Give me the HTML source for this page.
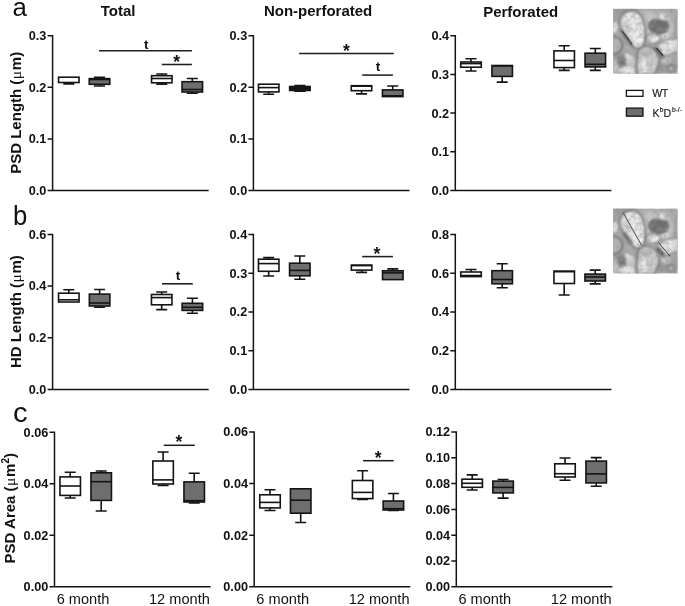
<!DOCTYPE html>
<html><head><meta charset="utf-8"><title>Figure</title>
<style>
html,body{margin:0;padding:0;background:#fff;}
svg{display:block;filter:grayscale(1);font-family:"Liberation Sans",sans-serif;}
.ax{fill:none;stroke:#141414;stroke-width:1.5;stroke-linecap:butt;stroke-linejoin:miter}
.bx{fill:none;stroke:#141414;stroke-width:1.6;}
.sg{fill:none;stroke:#1e1e1e;stroke-width:1.55;}
.tk{font-size:12.7px;font-weight:bold;text-anchor:end;fill:#111}
.xl{font-size:14.6px;text-anchor:middle;fill:#111}
.ti{font-size:15px;font-weight:bold;text-anchor:middle;fill:#111}
.pl{font-size:27px;fill:#111}
.yl{font-size:15px;font-weight:bold;text-anchor:middle;fill:#111}
.mu{font-family:"Liberation Serif",serif;font-weight:normal;font-size:15.5px}
.sup{font-size:10px}
.st{font-size:13.6px;font-weight:bold;text-anchor:middle;fill:#111}
.sa{font-size:17.5px;font-weight:bold;text-anchor:middle;fill:#111}
.lg{font-size:10.6px;fill:#1a1a1a;stroke:#1a1a1a;stroke-width:.15}
.ls{font-size:6.7px}
</style></head><body>
<svg width="685" height="606" viewBox="0 0 685 606">
<defs>
<filter id="bl00" x="-20%" y="-20%" width="140%" height="140%"><feGaussianBlur stdDeviation="0.25"/></filter>
<filter id="bl0" x="-20%" y="-20%" width="140%" height="140%"><feGaussianBlur stdDeviation="0.5"/></filter>
<filter id="bl1" x="-20%" y="-20%" width="140%" height="140%"><feGaussianBlur stdDeviation="1.0"/></filter>
<filter id="bl2" x="-20%" y="-20%" width="140%" height="140%"><feGaussianBlur stdDeviation="3"/></filter>
<filter id="nz" x="0" y="0" width="100%" height="100%"><feTurbulence type="fractalNoise" baseFrequency="0.17" numOctaves="2" seed="11" result="t"/><feColorMatrix in="t" type="matrix" values="0 0 0 0 0.35  0 0 0 0 0.35  0 0 0 0 0.35  0.9 0 0 0 -0.33"/></filter>
<filter id="nz2" x="0" y="0" width="100%" height="100%"><feTurbulence type="fractalNoise" baseFrequency="0.3" numOctaves="2" seed="3" result="t"/><feColorMatrix in="t" type="matrix" values="0 0 0 0 0.25  0 0 0 0 0.25  0 0 0 0 0.25  0 0.9 0 0 -0.4"/></filter>
<clipPath id="cp"><rect width="64.6" height="65"/></clipPath>
</defs>
<rect width="685" height="606" fill="#fff"/>
<text class="tk" x="46.40" y="194.90">0.0</text>
<text class="tk" x="46.40" y="143.30">0.1</text>
<text class="tk" x="46.40" y="91.70">0.2</text>
<text class="tk" x="46.40" y="40.10">0.3</text>
<path class="ax" d="M52.60 34.95V190.50H208.70M52.60 190.50h-5.00M52.60 138.90h-5.00M52.60 87.30h-5.00M52.60 35.70h-5.00"/>
<g class="bx"><path d="M68.80 82.50V83.90M63.30 83.90H74.30"/><rect x="58.55" y="77.20" width="20.50" height="5.30" fill="#fff"/><path d="M99.50 78.60V77.30M94.00 77.30H105.00"/><path d="M99.50 84.30V86.00M94.00 86.00H105.00"/><rect x="89.25" y="78.60" width="20.50" height="5.70" fill="#6e6e6e"/><path d="M89.25 79.50H109.75"/><path d="M161.80 75.70V74.00M156.30 74.00H167.30"/><path d="M161.80 82.80V84.10M156.30 84.10H167.30"/><rect x="151.55" y="75.70" width="20.50" height="7.10" fill="#fff"/><path d="M151.55 78.50H172.05"/><path d="M192.30 81.70V78.50M186.80 78.50H197.80"/><path d="M192.30 92.00V93.30M186.80 93.30H197.80"/><rect x="182.05" y="81.70" width="20.50" height="10.30" fill="#6e6e6e"/><path d="M182.05 89.50H202.55"/></g>
<text class="tk" x="247.20" y="194.90">0.0</text>
<text class="tk" x="247.20" y="143.30">0.1</text>
<text class="tk" x="247.20" y="91.70">0.2</text>
<text class="tk" x="247.20" y="40.10">0.3</text>
<path class="ax" d="M253.40 34.95V190.50H409.50M253.40 190.50h-5.00M253.40 138.90h-5.00M253.40 87.30h-5.00M253.40 35.70h-5.00"/>
<g class="bx"><path d="M268.70 91.90V94.30M263.20 94.30H274.20"/><rect x="258.45" y="84.20" width="20.50" height="7.70" fill="#fff"/><path d="M258.45 87.60H278.95"/><path d="M299.90 86.50V85.50M294.40 85.50H305.40"/><path d="M299.90 90.45V91.30M294.40 91.30H305.40"/><rect x="289.65" y="86.50" width="20.50" height="3.95" fill="#1c1c1c"/><path d="M289.65 88.40H310.15"/><path d="M361.50 90.70V93.90M356.00 93.90H367.00"/><rect x="351.25" y="85.70" width="20.50" height="5.00" fill="#fff"/><path d="M351.25 86.20H371.75"/><path d="M392.70 89.90V86.00M387.20 86.00H398.20"/><rect x="382.45" y="89.90" width="20.50" height="6.70" fill="#6e6e6e"/><path d="M382.45 95.80H402.95"/></g>
<text class="tk" x="449.10" y="194.90">0.0</text>
<text class="tk" x="449.10" y="156.20">0.1</text>
<text class="tk" x="449.10" y="117.50">0.2</text>
<text class="tk" x="449.10" y="78.80">0.3</text>
<text class="tk" x="449.10" y="40.10">0.4</text>
<path class="ax" d="M455.30 34.95V190.50H611.40M455.30 190.50h-5.00M455.30 151.80h-5.00M455.30 113.10h-5.00M455.30 74.40h-5.00M455.30 35.70h-5.00"/>
<g class="bx"><path d="M471.00 62.00V58.80M465.50 58.80H476.50"/><path d="M471.00 67.20V71.00M465.50 71.00H476.50"/><rect x="460.75" y="62.00" width="20.50" height="5.20" fill="#fff"/><path d="M460.75 63.60H481.25"/><path d="M502.20 76.40V82.10M496.70 82.10H507.70"/><rect x="491.95" y="65.50" width="20.50" height="10.90" fill="#6e6e6e"/><path d="M491.95 65.90H512.45"/><path d="M564.20 50.90V45.70M558.70 45.70H569.70"/><path d="M564.20 67.60V70.40M558.70 70.40H569.70"/><rect x="553.95" y="50.90" width="20.50" height="16.70" fill="#fff"/><path d="M553.95 60.50H574.45"/><path d="M595.30 53.20V48.50M589.80 48.50H600.80"/><path d="M595.30 66.90V70.40M589.80 70.40H600.80"/><rect x="585.05" y="53.20" width="20.50" height="13.70" fill="#6e6e6e"/><path d="M585.05 64.30H605.55"/></g>
<text class="tk" x="46.40" y="393.80">0.0</text>
<text class="tk" x="46.40" y="342.13">0.2</text>
<text class="tk" x="46.40" y="290.47">0.4</text>
<text class="tk" x="46.40" y="238.80">0.6</text>
<path class="ax" d="M52.60 233.65V389.40H208.70M52.60 389.40h-5.00M52.60 337.73h-5.00M52.60 286.07h-5.00M52.60 234.40h-5.00"/>
<g class="bx"><path d="M68.80 293.20V289.70M63.30 289.70H74.30"/><rect x="58.55" y="293.20" width="20.50" height="8.80" fill="#fff"/><path d="M58.55 299.80H79.05"/><path d="M99.60 294.10V289.50M94.10 289.50H105.10"/><path d="M99.60 306.00V307.30M94.10 307.30H105.10"/><rect x="89.35" y="294.10" width="20.50" height="11.90" fill="#6e6e6e"/><path d="M89.35 303.00H109.85"/><path d="M161.70 294.50V292.00M156.20 292.00H167.20"/><path d="M161.70 304.80V309.60M156.20 309.60H167.20"/><rect x="151.45" y="294.50" width="20.50" height="10.30" fill="#fff"/><path d="M151.45 297.60H171.95"/><path d="M192.40 303.30V298.30M186.90 298.30H197.90"/><path d="M192.40 310.40V313.30M186.90 313.30H197.90"/><rect x="182.15" y="303.30" width="20.50" height="7.10" fill="#6e6e6e"/><path d="M182.15 307.30H202.65"/></g>
<text class="tk" x="247.20" y="393.80">0.0</text>
<text class="tk" x="247.20" y="355.05">0.1</text>
<text class="tk" x="247.20" y="316.30">0.2</text>
<text class="tk" x="247.20" y="277.55">0.3</text>
<text class="tk" x="247.20" y="238.80">0.4</text>
<path class="ax" d="M253.40 233.65V389.40H409.50M253.40 389.40h-5.00M253.40 350.65h-5.00M253.40 311.90h-5.00M253.40 273.15h-5.00M253.40 234.40h-5.00"/>
<g class="bx"><path d="M268.70 259.20V257.60M263.20 257.60H274.20"/><path d="M268.70 271.30V276.00M263.20 276.00H274.20"/><rect x="258.45" y="259.20" width="20.50" height="12.10" fill="#fff"/><path d="M258.45 263.60H278.95"/><path d="M299.80 263.20V256.00M294.30 256.00H305.30"/><path d="M299.80 275.80V279.20M294.30 279.20H305.30"/><rect x="289.55" y="263.20" width="20.50" height="12.60" fill="#6e6e6e"/><path d="M289.55 270.40H310.05"/><path d="M361.60 270.10V272.40M356.10 272.40H367.10"/><rect x="351.35" y="265.10" width="20.50" height="5.00" fill="#fff"/><path d="M351.35 265.60H371.85"/><path d="M392.80 270.80V268.90M387.30 268.90H398.30"/><rect x="382.55" y="270.80" width="20.50" height="8.80" fill="#6e6e6e"/><path d="M382.55 272.90H403.05"/></g>
<text class="tk" x="449.10" y="393.80">0.0</text>
<text class="tk" x="449.10" y="355.10">0.2</text>
<text class="tk" x="449.10" y="316.40">0.4</text>
<text class="tk" x="449.10" y="277.70">0.6</text>
<text class="tk" x="449.10" y="239.00">0.8</text>
<path class="ax" d="M455.30 233.85V389.40H611.40M455.30 389.40h-5.00M455.30 350.70h-5.00M455.30 312.00h-5.00M455.30 273.30h-5.00M455.30 234.60h-5.00"/>
<g class="bx"><path d="M471.00 272.00V269.50M465.50 269.50H476.50"/><rect x="460.75" y="272.00" width="20.50" height="4.60" fill="#fff"/><path d="M460.75 275.50H481.25"/><path d="M502.20 270.70V263.80M496.70 263.80H507.70"/><path d="M502.20 283.80V287.70M496.70 287.70H507.70"/><rect x="491.95" y="270.70" width="20.50" height="13.10" fill="#6e6e6e"/><path d="M491.95 279.50H512.45"/><path d="M564.20 283.50V295.00M558.70 295.00H569.70"/><rect x="553.95" y="271.10" width="20.50" height="12.40" fill="#fff"/><path d="M553.95 271.70H574.45"/><path d="M595.20 274.10V270.10M589.70 270.10H600.70"/><path d="M595.20 281.00V283.90M589.70 283.90H600.70"/><rect x="584.95" y="274.10" width="20.50" height="6.90" fill="#6e6e6e"/><path d="M584.95 277.00H605.45"/></g>
<text class="tk" x="48.30" y="591.20">0.00</text>
<text class="tk" x="48.30" y="539.67">0.02</text>
<text class="tk" x="48.30" y="488.13">0.04</text>
<text class="tk" x="48.30" y="436.60">0.06</text>
<path class="ax" d="M54.50 431.45V586.80H210.60M54.50 586.80h-5.00M54.50 535.27h-5.00M54.50 483.73h-5.00M54.50 432.20h-5.00"/>
<g class="bx"><path d="M70.20 476.90V472.20M64.70 472.20H75.70"/><path d="M70.20 495.40V498.00M64.70 498.00H75.70"/><rect x="59.95" y="476.90" width="20.50" height="18.50" fill="#fff"/><path d="M59.95 486.00H80.45"/><path d="M101.20 472.80V471.00M95.70 471.00H106.70"/><path d="M101.20 500.40V511.00M95.70 511.00H106.70"/><rect x="90.95" y="472.80" width="20.50" height="27.60" fill="#6e6e6e"/><path d="M90.95 481.70H111.45"/><path d="M163.10 461.00V452.00M157.60 452.00H168.60"/><path d="M163.10 484.00V485.50M157.60 485.50H168.60"/><rect x="152.85" y="461.00" width="20.50" height="23.00" fill="#fff"/><path d="M152.85 479.90H173.35"/><path d="M194.20 481.90V473.30M188.70 473.30H199.70"/><path d="M194.20 502.00V503.00M188.70 503.00H199.70"/><rect x="183.95" y="481.90" width="20.50" height="20.10" fill="#6e6e6e"/><path d="M183.95 500.70H204.45"/></g>
<text class="xl" x="83.00" y="603.9">6 month</text>
<text class="xl" x="179.40" y="603.9">12 month</text>
<text class="tk" x="248.00" y="591.20">0.00</text>
<text class="tk" x="248.00" y="539.60">0.02</text>
<text class="tk" x="248.00" y="488.00">0.04</text>
<text class="tk" x="248.00" y="436.40">0.06</text>
<path class="ax" d="M254.20 431.25V586.80H410.30M254.20 586.80h-5.00M254.20 535.20h-5.00M254.20 483.60h-5.00M254.20 432.00h-5.00"/>
<g class="bx"><path d="M270.00 494.80V489.80M264.50 489.80H275.50"/><path d="M270.00 507.90V510.50M264.50 510.50H275.50"/><rect x="259.75" y="494.80" width="20.50" height="13.10" fill="#fff"/><path d="M259.75 502.40H280.25"/><path d="M300.70 513.20V522.50M295.20 522.50H306.20"/><rect x="290.45" y="488.80" width="20.50" height="24.40" fill="#6e6e6e"/><path d="M290.45 500.20H310.95"/><path d="M362.60 480.50V470.80M357.10 470.80H368.10"/><path d="M362.60 498.60V499.50M357.10 499.50H368.10"/><rect x="352.35" y="480.50" width="20.50" height="18.10" fill="#fff"/><path d="M352.35 492.40H372.85"/><path d="M393.40 501.00V493.50M387.90 493.50H398.90"/><path d="M393.40 510.00V510.50M387.90 510.50H398.90"/><rect x="383.15" y="501.00" width="20.50" height="9.00" fill="#6e6e6e"/><path d="M383.15 508.70H403.65"/></g>
<text class="xl" x="282.70" y="603.9">6 month</text>
<text class="xl" x="379.10" y="603.9">12 month</text>
<text class="tk" x="450.10" y="591.20">0.00</text>
<text class="tk" x="450.10" y="565.40">0.02</text>
<text class="tk" x="450.10" y="539.60">0.04</text>
<text class="tk" x="450.10" y="513.80">0.06</text>
<text class="tk" x="450.10" y="488.00">0.08</text>
<text class="tk" x="450.10" y="462.20">0.10</text>
<text class="tk" x="450.10" y="436.40">0.12</text>
<path class="ax" d="M456.30 431.25V586.80H612.40M456.30 586.80h-5.00M456.30 561.00h-5.00M456.30 535.20h-5.00M456.30 509.40h-5.00M456.30 483.60h-5.00M456.30 457.80h-5.00M456.30 432.00h-5.00"/>
<g class="bx"><path d="M472.20 479.20V474.90M466.70 474.90H477.70"/><path d="M472.20 487.30V490.00M466.70 490.00H477.70"/><rect x="461.95" y="479.20" width="20.50" height="8.10" fill="#fff"/><path d="M461.95 483.30H482.45"/><path d="M503.10 481.10V479.50M497.60 479.50H508.60"/><path d="M503.10 492.90V498.10M497.60 498.10H508.60"/><rect x="492.85" y="481.10" width="20.50" height="11.80" fill="#6e6e6e"/><path d="M492.85 487.40H513.35"/><path d="M565.00 463.80V458.00M559.50 458.00H570.50"/><path d="M565.00 477.00V480.20M559.50 480.20H570.50"/><rect x="554.75" y="463.80" width="20.50" height="13.20" fill="#fff"/><path d="M554.75 473.70H575.25"/><path d="M596.20 461.10V457.60M590.70 457.60H601.70"/><path d="M596.20 482.90V486.20M590.70 486.20H601.70"/><rect x="585.95" y="461.10" width="20.50" height="21.80" fill="#6e6e6e"/><path d="M585.95 473.90H606.45"/></g>
<text class="xl" x="484.80" y="603.9">6 month</text>
<text class="xl" x="581.20" y="603.9">12 month</text>
<path class="sg" d="M99.00 50.80H191.90"/>
<text class="st" x="146.30" y="49.40">t</text>
<path class="sg" d="M161.80 64.50H191.90"/>
<text class="sa" x="176.70" y="67.65">*</text>
<path class="sg" d="M299.10 53.40H393.80"/>
<text class="sa" x="346.50" y="57.05">*</text>
<path class="sg" d="M362.20 75.10H392.90"/>
<text class="st" x="378.00" y="71.20">t</text>
<path class="sg" d="M162.00 283.80H192.80"/>
<text class="st" x="177.90" y="279.90">t</text>
<path class="sg" d="M362.20 256.60H392.90"/>
<text class="sa" x="377.00" y="259.75">*</text>
<path class="sg" d="M163.80 445.30H194.80"/>
<text class="sa" x="178.90" y="448.45">*</text>
<path class="sg" d="M363.10 460.70H393.70"/>
<text class="sa" x="378.20" y="463.85">*</text>
<text class="ti" x="118.1" y="16.0">Total</text>
<text class="ti" x="318.1" y="16.3">Non-perforated</text>
<text class="ti" x="520.7" y="16.6">Perforated</text>
<text class="pl" style="font-size:25.8px" x="12.4" y="16.0">a</text>
<text class="pl" transform="translate(12.9 224.5) scale(.95 1)">b</text>
<text class="pl" transform="translate(12.9 421.5) scale(1.08 1)">c</text>
<text class="yl" transform="translate(20.90 112.80) rotate(-90)">PSD Length (<tspan class="mu" dx="0.5">μ</tspan><tspan dx="0.7">m</tspan>)</text>
<text class="yl" transform="translate(21.20 311.60) rotate(-90)">HD Length (<tspan class="mu" dx="0.5">μ</tspan><tspan dx="0.7">m</tspan>)</text>
<text class="yl" transform="translate(15.00 508.20) rotate(-90)">PSD Area (<tspan class="mu" dx="0.5">μ</tspan><tspan dx="0.7">m</tspan><tspan class="sup" dy="-6.2">2</tspan><tspan dy="6.2">)</tspan></text>
<rect x="626.4" y="90.4" width="16.6" height="5.9" fill="#fff" stroke="#141414" stroke-width="1.3"/>
<rect x="626.4" y="108.1" width="16.6" height="8.1" fill="#6e6e6e" stroke="#141414" stroke-width="1.3"/>
<text class="lg" x="652.2" y="96.9" textLength="16" lengthAdjust="spacing">WT</text>
<text class="lg" x="652.4" y="116.8">K</text><text class="lg ls" x="659.8" y="112.0">b</text><text class="lg" x="663.5" y="116.8">D</text><text class="lg ls" x="671.9" y="112.0">b-/-</text>
<g transform="translate(613.1 8.8)" clip-path="url(#cp)"><rect width="64.6" height="65" fill="#adadad"/><g filter="url(#bl2)"><ellipse cx="9" cy="53" rx="8" ry="8" fill="#7c7c7c"/><ellipse cx="12" cy="1" rx="14" ry="3" fill="#8c8c8c"/><ellipse cx="46" cy="18" rx="15" ry="13" fill="#cfcfcf"/><ellipse cx="34" cy="6" rx="5" ry="7" fill="#c6c6c6"/><ellipse cx="58" cy="4" rx="7" ry="4" fill="#a6a6a6"/><ellipse cx="10.5" cy="31" rx="4" ry="5" fill="#9a9a9a"/><ellipse cx="48" cy="59" rx="6" ry="5" fill="#8c8c8c"/><ellipse cx="62" cy="56" rx="4" ry="8" fill="#9a9a9a"/><ellipse cx="4" cy="8" rx="5" ry="6" fill="#a0a0a0"/></g><g filter="url(#bl1)"><path d="M62.6 9V31" stroke="#909090" stroke-width="2.2" opacity=".7"/><ellipse cx="1.2" cy="19" rx="3.4" ry="5.5" fill="#e2e2e2"/><ellipse cx="0.5" cy="36.5" rx="8.6" ry="8.6" fill="#b8b8b8" stroke="#555" stroke-width="1.5"/><ellipse cx="17.5" cy="52.5" rx="4.5" ry="6" fill="#d4d4d4"/><ellipse cx="14.1" cy="46.9" rx="2.8" ry="2.6" fill="#dcdcdc"/><ellipse cx="14" cy="62" rx="8.5" ry="4.5" fill="#e4e4e4"/><ellipse cx="2.5" cy="57" rx="3" ry="7" fill="#c8c8c8"/><ellipse cx="8.3" cy="52.6" rx="4.2" ry="5" fill="#767676"/><path d="M22.9 43V66" stroke="#888" stroke-width="1.1"/><path d="M24.6 46C25 41 28 38 32 37.5C37 37 42 40 44.5 45C47 50 46 55 44 59C43 62 42 64 41 66L24 66Z" fill="#cdcdcd" stroke="#606060" stroke-width="1.5"/><ellipse cx="33" cy="44.5" rx="6" ry="4" fill="#bababa"/><ellipse cx="29.5" cy="57" rx="4.8" ry="7.5" fill="#e4e4e4"/><ellipse cx="39" cy="54" rx="3" ry="6" fill="#d6d6d6"/><path d="M44 36.5C48 33 55 30 62.6 29.5L66 30V43L62.6 43.4C58 45 54 47 50 47.2C47.5 44 45 40 44 36.5Z" fill="#e0e0e0" stroke="#787878" stroke-width="1.3"/><ellipse cx="57.5" cy="35" rx="5" ry="3.6" fill="#efefef"/><ellipse cx="53" cy="51.5" rx="5" ry="3" fill="#c6c6c6"/><path d="M33.5 29C34 26 38 24.5 42 25.5C45.5 26.3 47.5 28 48 30C47 33 42 35.2 38.3 34.6C35.5 34 33.4 31.5 33.5 29Z" fill="#ececec" stroke="#707070" stroke-width="1.3"/><ellipse cx="52.5" cy="27" rx="4" ry="2.4" fill="#dadada" transform="rotate(-20 52.5 27)"/><path d="M8.9 22C7 19 6.2 16 6.6 13C7 9.5 9 6 12.9 3.6C16 2 21 1.8 23.5 3C27 5 29.5 9 30.8 14C32 19 32.3 24 32 27C31.8 31 31.5 34 30 36.5C28.5 39 25 40 22.5 39.2C20.5 38.3 19.3 36.5 18.7 35.3Z" fill="#e9e9e9" stroke="#505050" stroke-width="1.5"/><ellipse cx="13.5" cy="19" rx="4" ry="7" fill="#d2d2d2" transform="rotate(-20 13.5 19)"/><ellipse cx="25" cy="29" rx="4" ry="7" fill="#f2f2f2"/><ellipse cx="19" cy="9" rx="6" ry="4" fill="#efefef"/><path d="M36 14.5L39.5 11.1L47.6 10.5L54.5 13.4L55.7 18L52.2 23.8L46.4 24.9L38.3 22.6L35.4 18.6Z" fill="#6c6c6c" stroke="#6c6c6c" stroke-width="1.5" stroke-linejoin="round"/><circle cx="49.3" cy="8.2" r="2.7" fill="#f6f6f6"/><circle cx="58" cy="59.6" r="3.4" fill="#b2b2b2" stroke="#666" stroke-width="1.3"/></g><g filter="url(#bl1)"><path d="M7.8 21.8L18.2 36" stroke="#505050" stroke-width="2.6" opacity=".5" stroke-linecap="round"/><path d="M41.8 39.4L49.6 48.6" stroke="#484848" stroke-width="3.2" opacity=".6" stroke-linecap="round"/></g><g filter="url(#bl0)"><path d="M8.9 22L18.7 35.3" stroke="#202020" stroke-width="1.05"/><path d="M43.5 39.4L49.9 46.9" stroke="#202020" stroke-width="1.15"/></g><rect width="64.6" height="65" filter="url(#nz)"/><rect width="64.6" height="65" filter="url(#nz2)"/></g>
<g transform="translate(613.1 208.6)" clip-path="url(#cp)"><rect width="64.6" height="65" fill="#adadad"/><g filter="url(#bl2)"><ellipse cx="9" cy="53" rx="8" ry="8" fill="#7c7c7c"/><ellipse cx="12" cy="1" rx="14" ry="3" fill="#8c8c8c"/><ellipse cx="46" cy="18" rx="15" ry="13" fill="#cfcfcf"/><ellipse cx="34" cy="6" rx="5" ry="7" fill="#c6c6c6"/><ellipse cx="58" cy="4" rx="7" ry="4" fill="#a6a6a6"/><ellipse cx="10.5" cy="31" rx="4" ry="5" fill="#9a9a9a"/><ellipse cx="48" cy="59" rx="6" ry="5" fill="#8c8c8c"/><ellipse cx="62" cy="56" rx="4" ry="8" fill="#9a9a9a"/><ellipse cx="4" cy="8" rx="5" ry="6" fill="#a0a0a0"/></g><g filter="url(#bl1)"><path d="M62.6 9V31" stroke="#909090" stroke-width="2.2" opacity=".7"/><ellipse cx="1.2" cy="19" rx="3.4" ry="5.5" fill="#e2e2e2"/><ellipse cx="0.5" cy="36.5" rx="8.6" ry="8.6" fill="#b8b8b8" stroke="#555" stroke-width="1.5"/><ellipse cx="17.5" cy="52.5" rx="4.5" ry="6" fill="#d4d4d4"/><ellipse cx="14.1" cy="46.9" rx="2.8" ry="2.6" fill="#dcdcdc"/><ellipse cx="14" cy="62" rx="8.5" ry="4.5" fill="#e4e4e4"/><ellipse cx="2.5" cy="57" rx="3" ry="7" fill="#c8c8c8"/><ellipse cx="8.3" cy="52.6" rx="4.2" ry="5" fill="#767676"/><path d="M22.9 43V66" stroke="#888" stroke-width="1.1"/><path d="M24.6 46C25 41 28 38 32 37.5C37 37 42 40 44.5 45C47 50 46 55 44 59C43 62 42 64 41 66L24 66Z" fill="#cdcdcd" stroke="#606060" stroke-width="1.5"/><ellipse cx="33" cy="44.5" rx="6" ry="4" fill="#bababa"/><ellipse cx="29.5" cy="57" rx="4.8" ry="7.5" fill="#e4e4e4"/><ellipse cx="39" cy="54" rx="3" ry="6" fill="#d6d6d6"/><path d="M44 36.5C48 33 55 30 62.6 29.5L66 30V43L62.6 43.4C58 45 54 47 50 47.2C47.5 44 45 40 44 36.5Z" fill="#e0e0e0" stroke="#787878" stroke-width="1.3"/><ellipse cx="57.5" cy="35" rx="5" ry="3.6" fill="#efefef"/><ellipse cx="53" cy="51.5" rx="5" ry="3" fill="#c6c6c6"/><path d="M33.5 29C34 26 38 24.5 42 25.5C45.5 26.3 47.5 28 48 30C47 33 42 35.2 38.3 34.6C35.5 34 33.4 31.5 33.5 29Z" fill="#ececec" stroke="#707070" stroke-width="1.3"/><ellipse cx="52.5" cy="27" rx="4" ry="2.4" fill="#dadada" transform="rotate(-20 52.5 27)"/><path d="M8.9 22C7 19 6.2 16 6.6 13C7 9.5 9 6 12.9 3.6C16 2 21 1.8 23.5 3C27 5 29.5 9 30.8 14C32 19 32.3 24 32 27C31.8 31 31.5 34 30 36.5C28.5 39 25 40 22.5 39.2C20.5 38.3 19.3 36.5 18.7 35.3Z" fill="#e9e9e9" stroke="#505050" stroke-width="1.5"/><ellipse cx="13.5" cy="19" rx="4" ry="7" fill="#d2d2d2" transform="rotate(-20 13.5 19)"/><ellipse cx="25" cy="29" rx="4" ry="7" fill="#f2f2f2"/><ellipse cx="19" cy="9" rx="6" ry="4" fill="#efefef"/><path d="M36 14.5L39.5 11.1L47.6 10.5L54.5 13.4L55.7 18L52.2 23.8L46.4 24.9L38.3 22.6L35.4 18.6Z" fill="#6c6c6c" stroke="#6c6c6c" stroke-width="1.5" stroke-linejoin="round"/><circle cx="49.3" cy="8.2" r="2.7" fill="#f6f6f6"/><circle cx="58" cy="59.6" r="3.4" fill="#b2b2b2" stroke="#666" stroke-width="1.3"/></g><g filter="url(#bl1)"><path d="M10.5 24L18.5 35" stroke="#6a6a6a" stroke-width="3.2"/><path d="M44 39.5L51 47" stroke="#5c5c5c" stroke-width="3.6"/></g><g filter="url(#bl00)"><path d="M10 4.2L28.8 37.2" stroke="#1c1c1c" stroke-width=".85"/><path d="M45.3 33.9L57.2 47.8" stroke="#1c1c1c" stroke-width=".85"/></g><rect width="64.6" height="65" filter="url(#nz)"/><rect width="64.6" height="65" filter="url(#nz2)"/></g>
</svg>
</body></html>
